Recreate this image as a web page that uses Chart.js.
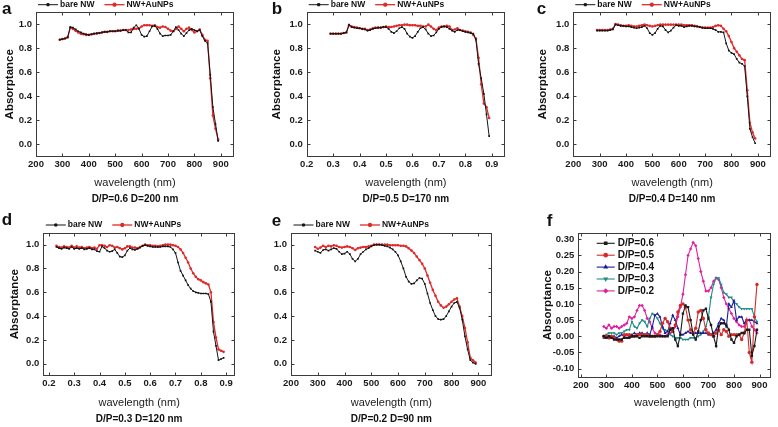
<!DOCTYPE html>
<html>
<head>
<meta charset="utf-8">
<script src="https://cdn.jsdelivr.net/npm/chart.js@4.4.0/dist/chart.umd.min.js"></script>
<style>
html,body{margin:0;padding:0;background:#fff;}
body{width:778px;height:427px;position:relative;overflow:hidden;}
canvas{position:absolute;display:block;}
</style>
</head>
<body>
<canvas id="pa" width="255" height="210" style="left:0px;top:0px"></canvas>
<canvas id="pb" width="260" height="210" style="left:255px;top:0px"></canvas>
<canvas id="pc" width="263" height="210" style="left:515px;top:0px"></canvas>
<canvas id="pd" width="255" height="217" style="left:0px;top:210px"></canvas>
<canvas id="pe" width="260" height="217" style="left:255px;top:210px"></canvas>
<canvas id="pf" width="263" height="217" style="left:515px;top:210px"></canvas>
<script>
// ---------------- DATA ----------------
const wavelength = [290,300,310,320,330,340,350,360,370,380,
  390,400,410,420,430,440,450,460,470,480,
  490,500,510,520,530,540,550,560,570,580,
  590,600,610,620,630,640,650,660,670,680,
  690,700,710,720,730,740,750,760,770,780,
  790,800,810,820,830,840,850,860,870,880,
  890];
// panel d starts at a shorter wavelength in the figure
const wavelengthD = [230,240,250,260,270,280,
  290,300,310,320,330,340,350,360,370,380,
  390,400,410,420,430,440,450,460,470,480,
  490,500,510,520,530,540,550,560,570,580,
  590,600,610,620,630,640,650,660,670,680,
  690,700,710,720,730,740,750,760,770,780,
  790,800,810,820,830,840,850,860,870,880,
  890];

const xTicksNm = [200,300,400,500,600,700,800,900];
const yTicksAbs = [0,0.2,0.4,0.6,0.8,1.0];
const yTicksDiff = [-0.10,-0.05,0,0.05,0.10,0.15,0.20,0.25,0.30];

const seriesLabels = ['bare NW','NW+AuNPs'];
const captions = ['D/P=0.6 D=200 nm','D/P=0.5 D=170 nm','D/P=0.4 D=140 nm','D/P=0.3 D=120 nm','D/P=0.2 D=90 nm'];
const diffLabels = ['D/P=0.6','D/P=0.5','D/P=0.4','D/P=0.3','D/P=0.2'];

// panel a (D/P=0.6)
const bareA = [0.870,0.875,0.880,0.890,0.975,0.970,0.955,0.940,0.930,0.920,
  0.915,0.910,0.915,0.920,0.925,0.925,0.930,0.935,0.935,0.940,
  0.940,0.940,0.945,0.945,0.950,0.950,0.930,0.930,0.970,0.990,
  0.960,0.910,0.895,0.900,0.940,0.980,0.985,0.960,0.920,0.900,
  0.905,0.905,0.910,0.940,0.975,0.950,0.920,0.900,0.925,0.950,
  0.960,0.950,0.940,0.950,0.900,0.860,0.840,0.580,0.310,0.170,
  0.030];
const auA = [0.870,0.875,0.880,0.890,0.970,0.960,0.945,0.930,0.920,0.915,
  0.910,0.910,0.915,0.920,0.920,0.925,0.930,0.935,0.935,0.940,
  0.940,0.940,0.945,0.945,0.950,0.950,0.950,0.955,0.960,0.960,
  0.965,0.980,0.990,0.990,0.990,0.985,0.990,0.975,0.970,0.980,
  0.975,0.960,0.945,0.940,0.960,0.980,0.960,0.940,0.960,0.970,
  0.950,0.930,0.940,0.955,0.910,0.870,0.860,0.550,0.240,0.130,
  0.040];
// panel b (D/P=0.5)
const bareB = [0.920,0.920,0.920,0.920,0.920,0.925,0.930,0.995,0.975,0.970,
  0.965,0.965,0.960,0.955,0.945,0.950,0.960,0.965,0.970,0.970,
  0.975,0.975,0.960,0.935,0.925,0.940,0.965,0.975,0.960,0.920,
  0.895,0.885,0.900,0.935,0.965,0.975,0.955,0.920,0.900,0.905,
  0.930,0.960,0.975,0.980,0.975,0.960,0.945,0.935,0.950,0.950,
  0.940,0.935,0.930,0.925,0.920,0.870,0.670,0.550,0.420,0.250,
  0.070];
const auB = [0.920,0.920,0.920,0.920,0.920,0.925,0.930,0.990,0.980,0.975,
  0.970,0.965,0.960,0.960,0.950,0.955,0.965,0.970,0.970,0.970,
  0.975,0.980,0.975,0.975,0.980,0.985,0.990,0.990,0.995,0.995,
  0.990,0.990,0.990,0.985,0.985,0.980,0.980,0.995,0.980,0.960,
  0.950,0.970,0.980,0.980,0.985,0.980,0.950,0.955,0.965,0.950,
  0.945,0.940,0.935,0.930,0.910,0.880,0.720,0.500,0.340,0.310,
  0.220];
// panel c (D/P=0.4)
const bareC = [0.945,0.945,0.945,0.945,0.945,0.950,0.955,0.995,0.990,0.985,
  0.985,0.980,0.980,0.975,0.970,0.965,0.970,0.975,0.985,0.965,
  0.925,0.910,0.925,0.960,0.985,0.980,0.950,0.930,0.945,0.970,
  0.990,0.985,0.985,0.975,0.980,0.985,0.985,0.980,0.980,0.975,
  0.970,0.965,0.965,0.965,0.960,0.950,0.935,0.935,0.930,0.840,
  0.780,0.760,0.750,0.710,0.680,0.670,0.650,0.400,0.130,0.060,
  0.010];
const auC = [0.950,0.950,0.950,0.950,0.950,0.955,0.960,1.000,0.995,0.990,
  0.985,0.985,0.990,0.985,0.980,0.980,0.985,0.990,0.995,0.990,
  0.985,0.980,0.985,0.990,0.995,0.995,0.995,0.995,0.995,0.995,
  0.995,0.995,0.995,0.990,0.990,0.990,0.990,0.985,0.980,0.975,
  0.970,0.970,0.970,0.970,0.975,0.985,0.990,0.985,0.960,0.940,
  0.900,0.850,0.800,0.770,0.740,0.710,0.700,0.450,0.180,0.100,
  0.050];
// panel d (D/P=0.3) — on wavelengthD
const bareD = [0.980,0.970,0.965,0.975,0.970,0.965,
  0.980,0.965,0.970,0.965,0.970,0.960,0.965,0.970,0.960,0.960,
  0.945,0.940,0.985,0.970,0.950,0.940,0.945,0.960,0.930,0.900,
  0.895,0.910,0.950,0.970,0.960,0.955,0.965,0.975,0.990,0.995,
  0.990,0.985,0.980,0.980,0.980,0.980,0.985,0.985,0.985,0.980,
  0.960,0.930,0.850,0.780,0.740,0.700,0.660,0.630,0.610,0.600,
  0.595,0.590,0.590,0.590,0.585,0.520,0.270,0.150,0.030,0.040,
  0.050];
const auD = [0.990,0.980,0.975,0.985,0.980,0.975,
  0.990,0.975,0.985,0.975,0.980,0.970,0.975,0.980,0.970,0.975,
  0.965,0.995,0.995,0.990,0.980,0.995,0.990,0.975,0.980,0.970,
  0.960,0.970,0.985,0.985,0.975,0.975,0.970,0.980,0.990,1.000,
  0.995,0.995,0.990,0.990,0.985,0.990,0.995,1.000,1.000,1.000,
  0.995,0.990,0.980,0.960,0.930,0.890,0.850,0.800,0.760,0.730,
  0.710,0.700,0.685,0.675,0.665,0.600,0.350,0.220,0.120,0.110,
  0.100];
// panel e (D/P=0.2)
const bareE = [0.950,0.940,0.930,0.955,0.960,0.950,0.960,0.970,0.965,0.940,
  0.920,0.925,0.940,0.920,0.880,0.860,0.880,0.920,0.940,0.960,
  0.970,0.985,0.995,1.000,1.000,0.995,0.990,0.985,0.975,0.960,
  0.940,0.910,0.860,0.800,0.730,0.690,0.670,0.675,0.700,0.720,
  0.715,0.670,0.590,0.510,0.450,0.400,0.375,0.370,0.375,0.400,
  0.440,0.480,0.510,0.520,0.470,0.370,0.230,0.120,0.030,0.010,
  0.000];
const auE = [0.980,0.965,0.975,0.990,0.980,0.990,0.985,0.995,0.990,0.980,
  0.975,0.980,0.985,0.980,0.970,0.955,0.970,0.975,0.980,0.980,
  0.985,0.990,1.000,1.000,1.000,1.000,1.000,1.000,0.995,0.995,
  0.995,0.995,0.990,0.990,0.985,0.970,0.950,0.930,0.900,0.870,
  0.840,0.800,0.740,0.680,0.620,0.570,0.520,0.490,0.470,0.480,
  0.500,0.520,0.540,0.550,0.480,0.400,0.300,0.180,0.050,0.030,
  0.010];
// panel f : absorptance enhancement
const diff06 = [0.000,-0.005,0.000,-0.005,-0.010,-0.010,-0.010,-0.010,-0.005,-0.005,
  -0.005,0.000,0.000,0.000,-0.005,0.000,0.000,0.000,0.000,0.000,
  0.000,0.000,0.000,0.000,0.000,0.000,0.020,0.025,-0.010,-0.030,
  0.005,0.070,0.095,0.090,0.050,0.005,-0.010,0.015,0.050,0.080,
  0.085,0.055,0.035,0.000,-0.030,0.030,0.040,0.040,0.035,0.020,
  -0.010,-0.020,0.000,0.005,0.010,0.010,0.020,0.020,-0.060,-0.030,
  0.020];
const diff05 = [0.000,0.000,-0.005,0.000,-0.005,-0.010,-0.015,-0.015,0.005,0.005,
  0.005,0.000,0.000,0.005,0.005,0.005,0.005,0.005,0.000,0.000,
  0.000,0.005,0.015,0.040,0.055,0.045,0.025,0.015,0.035,0.075,
  0.095,0.100,0.090,0.050,0.020,0.010,0.025,0.075,0.080,0.055,
  0.020,0.010,0.005,0.000,0.010,0.020,0.005,0.020,0.015,0.000,
  0.005,0.005,0.005,0.005,-0.010,0.010,0.050,-0.050,-0.080,0.060,
  0.160];
const diff04 = [-0.005,-0.005,0.000,-0.005,0.000,-0.005,0.000,0.005,0.000,0.005,
  0.000,0.005,0.010,0.005,0.010,0.010,0.005,0.010,0.005,0.030,
  0.065,0.070,0.060,0.030,0.010,0.015,0.040,0.065,0.050,0.025,
  0.005,0.005,0.010,0.015,0.010,0.010,0.010,0.010,0.010,0.010,
  0.010,0.005,0.005,0.010,0.020,0.040,0.055,0.050,0.030,0.100,
  0.090,0.110,0.050,0.060,0.060,0.040,0.050,0.050,0.050,0.045,
  0.040];
const diff03 = [0.000,0.005,0.010,0.010,0.010,0.005,0.010,0.010,0.015,0.020,
  0.020,0.045,0.030,0.025,0.040,0.050,0.045,0.030,0.055,0.070,
  0.065,0.055,0.040,0.025,0.020,0.015,0.005,0.000,-0.005,-0.005,
  -0.005,-0.010,-0.010,-0.010,-0.005,-0.005,-0.005,0.000,0.005,0.015,
  0.030,0.060,0.120,0.160,0.180,0.180,0.160,0.135,0.130,0.120,
  0.120,0.105,0.100,0.090,0.085,0.085,0.085,0.085,0.085,0.060,
  0.045];
const diff02 = [0.030,0.025,0.035,0.025,0.030,0.030,0.025,0.030,0.035,0.040,
  0.060,0.055,0.060,0.080,0.095,0.095,0.080,0.055,0.045,0.025,
  0.010,0.005,0.005,0.000,0.000,0.005,0.010,0.015,0.030,0.060,
  0.090,0.130,0.190,0.250,0.270,0.290,0.280,0.240,0.200,0.170,
  0.140,0.140,0.150,0.170,0.180,0.175,0.150,0.120,0.100,0.085,
  0.070,0.055,0.045,0.035,0.030,0.030,0.050,0.050,0.030,0.020,
  0.010];

// ---------------- RENDERING ----------------
const FAM = "'Liberation Sans', Arial, Helvetica, sans-serif";
Chart.defaults.font.family = FAM;
Chart.defaults.color = '#1a1a1a';

const xy = (vals, wl) => (wl || wavelength).map((w, i) => ({x: w, y: vals[i]}));

function framePlugin() {
  return {
    id: 'originFrame',
    beforeDatasetsDraw(chart) {
      const {ctx, chartArea: a} = chart;
      const xs = chart.scales.x, ys = chart.scales.y;
      const L = Math.round(a.left) + 0.5, R = Math.round(a.right) - 0.5;
      const T = Math.round(a.top) + 0.5, B = Math.round(a.bottom) - 0.5;
      ctx.save();
      ctx.strokeStyle = '#3c3c3c';
      ctx.lineWidth = 1;
      ctx.strokeRect(L, T, R - L, B - T);
      ctx.beginPath();
      xs.ticks.forEach(t => {
        const p = Math.round(xs.getPixelForValue(t.value)) + 0.5;
        ctx.moveTo(p, B); ctx.lineTo(p, B - 3);
        ctx.moveTo(p, T); ctx.lineTo(p, T + 3);
      });
      ys.ticks.forEach(t => {
        const p = Math.round(ys.getPixelForValue(t.value)) + 0.5;
        ctx.moveTo(L, p); ctx.lineTo(L + 3, p);
        ctx.moveTo(R, p); ctx.lineTo(R - 3, p);
      });
      ctx.stroke();
      ctx.restore();
    }
  };
}

function legendPlugin(cfg) {
  return {
    id: 'originLegend',
    afterDatasetsDraw(chart) {
      const {ctx, chartArea: a} = chart;
      ctx.save();
      ctx.font = cfg.font;
      ctx.textBaseline = 'middle';
      ctx.textAlign = 'left';
      let x = a.left + cfg.dx, y = a.top + cfg.dy;
      chart.data.datasets.forEach(ds => {
        ctx.strokeStyle = ds.borderColor;
        ctx.fillStyle = ds.borderColor;
        ctx.lineWidth = ds.borderWidth;
        ctx.beginPath(); ctx.moveTo(x, y); ctx.lineTo(x + cfg.len, y); ctx.stroke();
        Chart.helpers.drawPoint(ctx, {pointStyle: ds.pointStyle, radius: cfg.r, rotation: ds.pointRotation || 0, borderWidth: 1}, x + cfg.len / 2, y);
        ctx.fillStyle = cfg.color;
        ctx.fillText(ds.label, x + cfg.len + cfg.gap, y);
        if (cfg.rowH) y += cfg.rowH;
        else x += cfg.len + cfg.gap + ctx.measureText(ds.label).width + cfg.itemGap;
      });
      ctx.restore();
    }
  };
}

function letterPlugin(t, x, y) {
  return {
    id: 'panelLetter',
    afterDraw(chart) {
      const ctx = chart.ctx;
      ctx.save();
      ctx.font = 'bold 17px ' + FAM;
      ctx.fillStyle = '#111';
      ctx.textBaseline = 'alphabetic';
      ctx.textAlign = 'left';
      ctx.fillText(t, x, y);
      ctx.restore();
    }
  };
}

const BLACK = '#151515', RED = '#e02a2a';
const TICKFONT = {size: 9.5, weight: 'bold'};

function makePanel(id, o) {
  return new Chart(document.getElementById(id), {
    type: 'line',
    data: {datasets: o.datasets},
    options: {
      responsive: false,
      animation: false,
      devicePixelRatio: 1,
      layout: {padding: {left: o.padL || 0, right: o.padR, top: o.padT, bottom: o.padB}},
      elements: {line: {tension: 0}},
      plugins: {
        legend: {display: false},
        tooltip: {enabled: false},
        title: {
          display: !!o.caption, text: o.caption || '', position: 'bottom', fullSize: false,
          font: {size: 10, weight: 'bold'}, color: '#111', padding: {top: 0, bottom: 0}
        }
      },
      scales: {
        x: {
          type: 'linear', min: o.xmin || 200, max: o.xmax || 950,
          afterBuildTicks: s => { s.ticks = xTicksNm.map(v => ({value: v})); },
          afterFit: s => { s.height = o.hx; },
          ticks: {callback: o.xfmt, font: TICKFONT, color: '#1a1a1a', padding: 2, autoSkip: false, maxRotation: 0},
          grid: {display: false, drawTicks: false},
          border: {display: false},
          title: {display: true, text: 'wavelength (nm)', font: {size: 11}, color: '#1a1a1a', padding: {top: 0, bottom: o.xtPad}}
        },
        y: {
          type: 'linear', min: o.ymin, max: o.ymax,
          afterBuildTicks: s => { s.ticks = o.yticks.map(v => ({value: v})); },
          afterFit: s => { s.width = o.wy; },
          ticks: {callback: o.yfmt, font: TICKFONT, color: '#1a1a1a', padding: 4, autoSkip: false},
          grid: {display: false, drawTicks: false},
          border: {display: false},
          title: {display: !!o.ytitle, text: 'Absorptance', font: {size: 11.5, weight: 'bold'}, color: '#111', padding: {top: o.ytPad || 0, bottom: 0}}
        }
      }
    },
    plugins: [framePlugin(), legendPlugin(o.legend), letterPlugin(o.letter, o.lx, o.ly)]
  });
}

const nmFmt = v => String(v);
const umFmt = v => (v / 1000).toFixed(1);
const absFmt = v => v.toFixed(1);
const diffFmt = v => v.toFixed(2);

function pairSets(bare, au, wl) {
  return [
    {label: seriesLabels[0], data: xy(bare, wl), borderColor: BLACK, backgroundColor: BLACK, borderWidth: 1, pointRadius: 1.2, pointStyle: 'rect', pointBorderWidth: 0},
    {label: seriesLabels[1], data: xy(au, wl), borderColor: RED, backgroundColor: RED, borderWidth: 1.3, pointRadius: 1.3, pointStyle: 'circle', pointBorderWidth: 0}
  ];
}

const topLegend = {font: 'bold 8.5px ' + FAM, color: '#111', dx: 2, dy: -7.3, len: 20, gap: 2, itemGap: 10, r: 1.5};
const botLegend = {font: 'bold 8.5px ' + FAM, color: '#111', dx: 2.5, dy: -7.7, len: 20, gap: 2, itemGap: 10, r: 1.5};

const absCommon = {ymin: -0.1, ymax: 1.1, yticks: yTicksAbs, yfmt: absFmt};
const topRow = {padT: 12, padB: 5, hx: 36.5, xtPad: 3};
const botRow = {padT: 22.7, padB: 2, hx: 37.3, xtPad: 3.7};

makePanel('pa', Object.assign({}, absCommon, topRow, {
  datasets: pairSets(bareA, auA), caption: captions[0], xfmt: nmFmt,
  padR: 21, wy: 36, ytitle: true, ytPad: 3.1, legend: topLegend, letter: 'a', lx: 2, ly: 13.5
}));
makePanel('pb', Object.assign({}, absCommon, topRow, {
  datasets: pairSets(bareB, auB), caption: captions[1], xfmt: umFmt,
  padR: 10, wy: 51.7, ytitle: true, ytPad: 15.1, legend: topLegend, letter: 'b', lx: 16.7, ly: 14
}));
makePanel('pc', Object.assign({}, absCommon, topRow, {
  datasets: pairSets(bareC, auC), caption: captions[2], xfmt: nmFmt,
  padR: 7, wy: 58.3, ytitle: true, ytPad: 21.4, legend: topLegend, letter: 'c', lx: 21.7, ly: 14
}));
makePanel('pd', Object.assign({}, absCommon, botRow, {
  datasets: pairSets(bareD, auD, wavelengthD), caption: captions[3], xfmt: umFmt, xmin: 178, xmax: 935,
  padR: 20, wy: 43.3, ytitle: true, ytPad: 8.1, legend: botLegend, letter: 'd', lx: 1.7, ly: 15
}));
makePanel('pe', Object.assign({}, absCommon, botRow, {
  datasets: pairSets(bareE, auE), caption: captions[4], xfmt: nmFmt,
  padR: 23.3, wy: 36, ytitle: false, legend: botLegend, letter: 'e', lx: 16.7, ly: 16
}));

const diffColors = ['#1a1a1a', '#d42a2a', '#1c1c9c', '#238a8a', '#e0209e'];
const diffStyles = ['rect', 'circle', 'triangle', 'triangle', 'rectRot'];
const diffRot = [0, 0, 0, 180, 0];
const diffVals = [diff06, diff05, diff04, diff03, diff02];
makePanel('pf', {
  datasets: diffVals.map((v, i) => ({
    label: diffLabels[i], data: xy(v), borderColor: diffColors[i], backgroundColor: diffColors[i],
    borderWidth: 1.1, pointRadius: 1.7, pointStyle: diffStyles[i], pointRotation: diffRot[i], pointBorderWidth: 0
  })),
  ymin: -0.128, ymax: 0.32, yticks: yTicksDiff, yfmt: diffFmt, xfmt: nmFmt, xmin: 190, xmax: 945,
  padT: 22.7, padB: 14.3, hx: 35, xtPad: 2.8, padR: 7, wy: 63.3, ytitle: true, ytPad: 26.4,
  legend: {font: 'bold 10px ' + FAM, color: '#111', dx: 18.4, dy: 10.6, len: 18, gap: 3, rowH: 11.9, r: 1.8},
  letter: 'f', lx: 31.7, ly: 16
});
</script>
</body>
</html>
